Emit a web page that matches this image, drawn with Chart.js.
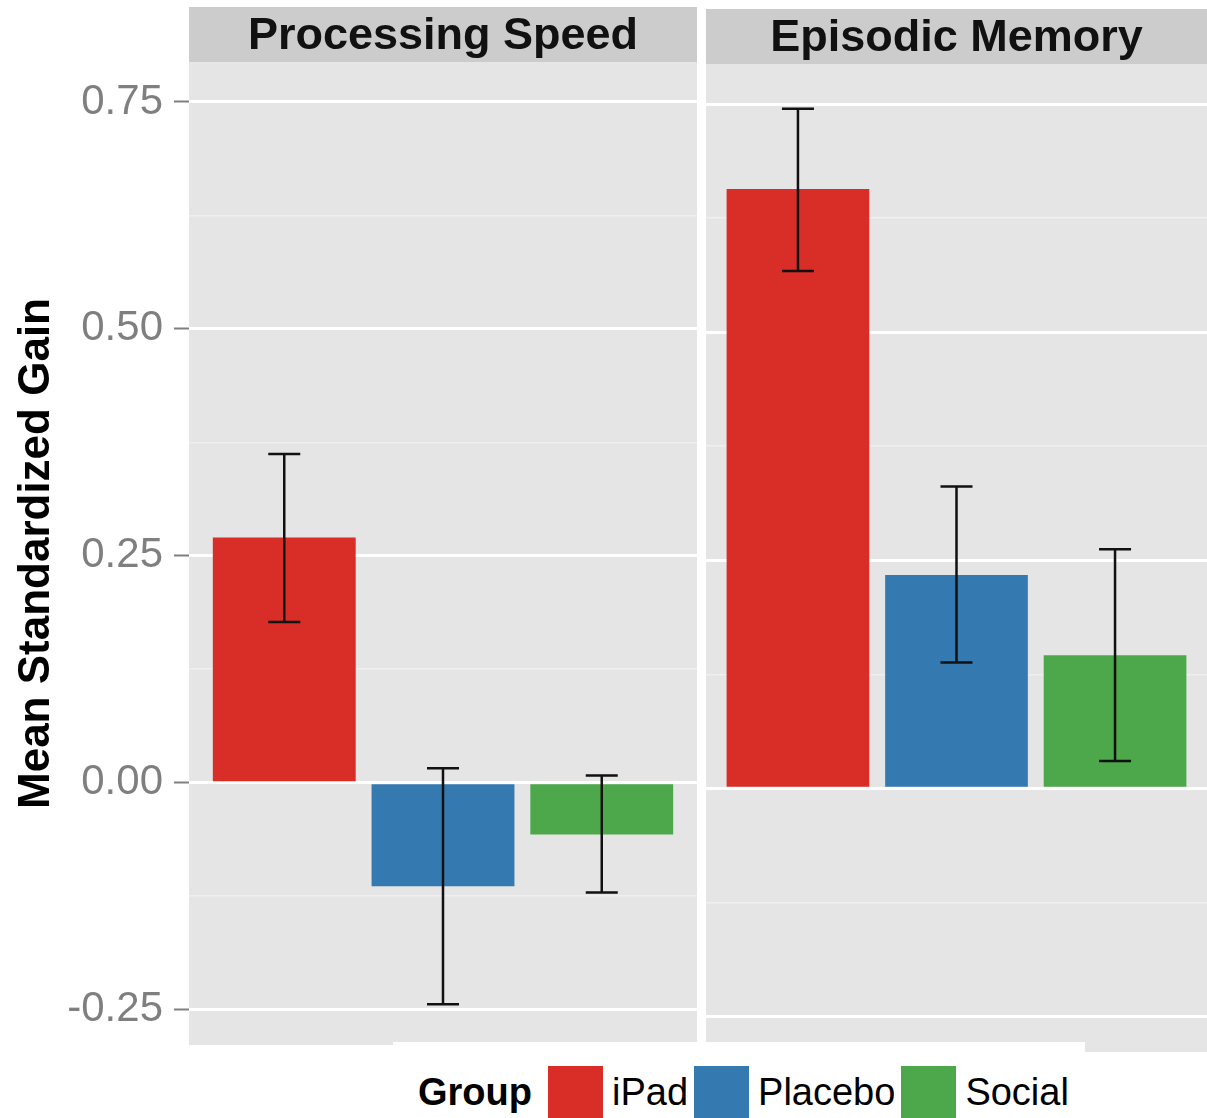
<!DOCTYPE html>
<html>
<head>
<meta charset="utf-8">
<script src="https://cdn.jsdelivr.net/npm/chart.js@4.4.1/dist/chart.umd.min.js"></script>
<style>
  body { margin: 0; background: #fff; width: 1207px; height: 1118px; position: relative; overflow: hidden; font-family: "Liberation Sans", Arial, sans-serif; }
  .panel { position: absolute; }
  #legend { position: absolute; left: 393px; top: 1042px; width: 692px; height: 76px; background: #fff;
            display: flex; align-items: flex-end; padding-left: 25px; box-sizing: border-box; }
  #legend .ttl { font-weight: bold; font-size: 38px; line-height: 52px; margin-right: 16px; color: #000; }
  #legend .key { width: 55px; height: 52px; }
  #legend .lab { font-size: 38px; line-height: 52px; margin: 0 6px 0 9px; color: #000; }
</style>
</head>
<body>
<div class="panel" style="left:0;top:0;width:697px;height:1045px"><canvas id="speed"></canvas></div>
<div class="panel" style="left:706px;top:2px;width:501px;height:1050px"><canvas id="memory"></canvas></div>
<div id="legend"></div>
<script>
const groups = ['iPad', 'Placebo', 'Social'];
const groupColors = ['#d92d27', '#3579b1', '#4ca84a'];
const panelTitles = ['Processing Speed', 'Episodic Memory'];

// means and error bar limits
const speedMean = [0.270, -0.114, -0.057];
const speedLow = [0.177, -0.244, -0.121];
const speedHigh = [0.362, 0.016, 0.008];
const memoryMean = [0.657, 0.234, 0.146];
const memoryLow = [0.567, 0.138, 0.030];
const memoryHigh = [0.745, 0.331, 0.262];

const yTicks = [-0.25, 0, 0.25, 0.5, 0.75];
const yTickLabels = ['-0.25', '0.00', '0.25', '0.50', '0.75'];
const yMinor = [-0.125, 0.125, 0.375, 0.625];
const yMin = -0.289, yMax = 0.794;

const FONT = '"Liberation Sans", Arial, sans-serif';
const isMajor = v => yTicks.some(t => Math.abs(t - v) < 1e-6);

const panelBg = {
  id: 'panelBg',
  beforeDraw(chart) {
    const { ctx, chartArea: a } = chart;
    ctx.save();
    ctx.fillStyle = '#e5e5e5';
    ctx.fillRect(a.left, a.top, a.right - a.left, a.bottom - a.top);
    const t = chart.titleBlock;
    if (t) {
      ctx.fillStyle = '#cccccc';
      ctx.fillRect(a.left, t.top, a.right - a.left, a.top - t.top);
    }
    ctx.restore();
  }
};

const errorBars = {
  id: 'errorBars',
  afterDatasetsDraw(chart, args, opts) {
    const { ctx, scales: { x, y } } = chart;
    ctx.save();
    ctx.strokeStyle = '#111';
    ctx.lineWidth = 2.5;
    opts.low.forEach((lo, i) => {
      const px = x.getPixelForValue(i + 1);
      const yl = y.getPixelForValue(lo), yh = y.getPixelForValue(opts.high[i]);
      ctx.beginPath();
      ctx.moveTo(px, yh); ctx.lineTo(px, yl);
      ctx.moveTo(px - 16, yh); ctx.lineTo(px + 16, yh);
      ctx.moveTo(px - 16, yl); ctx.lineTo(px + 16, yl);
      ctx.stroke();
    });
    ctx.restore();
  }
};

function makePanel(id, title, means, low, high, showAxis, xPad) {
  new Chart(document.getElementById(id), {
    type: 'bar',
    data: {
      datasets: [{
        data: means.map((v, i) => ({ x: i + 1, y: v })),
        backgroundColor: groupColors,
        categoryPercentage: 0.9,
        barPercentage: 1
      }]
    },
    options: {
      responsive: true,
      maintainAspectRatio: false,
      animation: false,
      layout: { padding: { top: 7, left: 0, right: 0, bottom: 0 } },
      plugins: {
        legend: { display: false },
        tooltip: { enabled: false },
        title: {
          display: true, text: title, fullSize: false, color: '#111',
          font: { family: FONT, size: 45, weight: 'bold', lineHeight: 1.1 },
          padding: { top: 5, bottom: 0.5 }
        },
        errorBars: { low, high }
      },
      scales: {
        x: {
          type: 'linear', min: 1 - xPad, max: groups.length + xPad, display: false, offset: false,
          grid: { offset: false },
          afterBuildTicks: s => { s.ticks = groups.map((g, i) => ({ value: i + 1 })); }
        },
        y: {
          min: yMin, max: yMax,
          afterBuildTicks: s => { s.ticks = [...yTicks, ...yMinor].sort((a, b) => a - b).map(v => ({ value: v })); },
          afterFit: s => { s.width = showAxis ? 189 : 0; s.paddingTop = 0; s.paddingBottom = 0; },
          border: { display: false },
          grid: {
            color: c => isMajor(c.tick.value) ? '#ffffff' : '#efefef',
            lineWidth: c => isMajor(c.tick.value) ? 3 : 1.5,
            tickColor: c => isMajor(c.tick.value) ? '#7f7f7f' : 'rgba(0,0,0,0)',
            tickLength: 15, tickWidth: 2, drawTicks: showAxis
          },
          ticks: {
            display: showAxis, autoSkip: false, padding: 11, color: '#7f7f7f',
            font: { family: FONT, size: 42 },
            callback: v => isMajor(v) ? yTickLabels[yTicks.findIndex(t => Math.abs(t - v) < 1e-6)] : ''
          },
          title: {
            display: showAxis, text: 'Mean Standardized Gain', color: '#000',
            font: { family: FONT, size: 44, weight: 'bold' },
            padding: { top: 10, bottom: 0 }
          }
        }
      }
    },
    plugins: [panelBg, errorBars]
  });
}

makePanel('speed', panelTitles[0], speedMean, speedLow, speedHigh, true, 0.6);
makePanel('memory', panelTitles[1], memoryMean, memoryLow, memoryHigh, false, 0.58);

const legend = document.getElementById('legend');
legend.innerHTML = '<span class="ttl">Group</span>' +
  groups.map((g, i) => `<span class="key" style="background:${groupColors[i]}"></span><span class="lab">${g}</span>`).join('');
</script>
</body>
</html>
